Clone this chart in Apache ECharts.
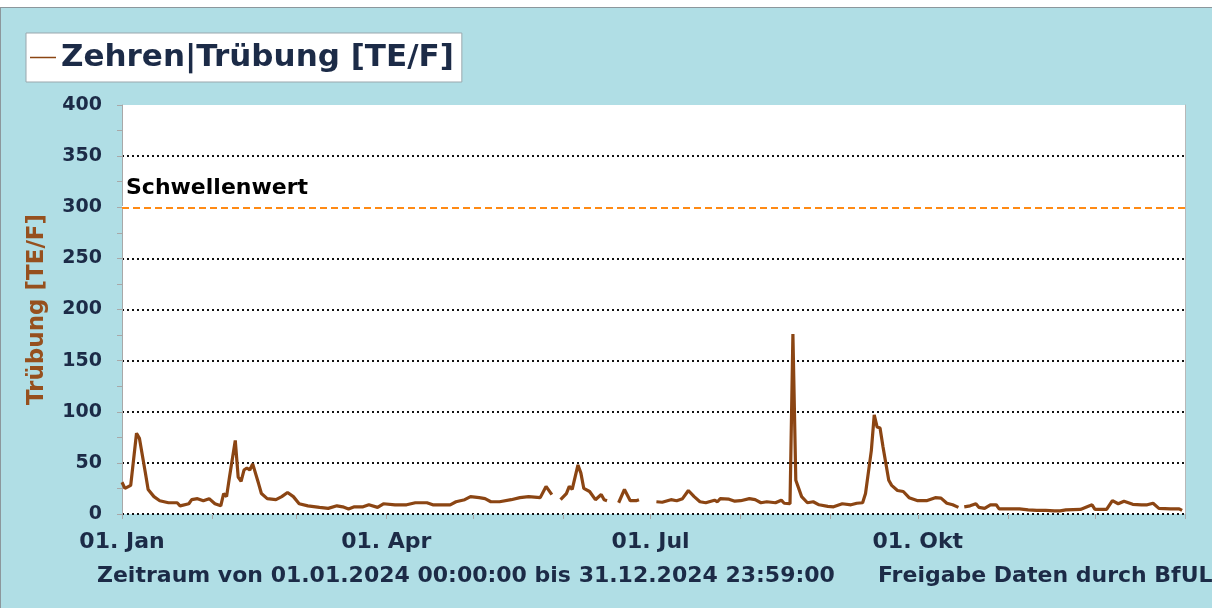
<!DOCTYPE html>
<html>
<head>
<meta charset="utf-8">
<script src="https://cdn.jsdelivr.net/npm/echarts@6/dist/echarts.min.js"></script>
<style>
  html, body { margin: 0; padding: 0; background: #ffffff; }
  #wrap { position: absolute; left: 0; top: 7px; width: 1211px; height: 600px;
          border-left: 1px solid #8c979c; border-top: 1px solid #8c979c; }
  #chart { width: 1211px; height: 600px; }
</style>
</head>
<body>
<div id="wrap"><div id="chart"></div></div>
<script>
// Tag im Jahr 2024 (0 = 01.01.) und Trübung [TE/F]; null = Messlücke
var days = [0, 1, 3, 5, 6, 8, 9, 11, 13, 16, 19, 20, 23, 24, 26, 28, 30, 32, 34, 35,
  36, 37, 39, 40, 41, 42, 43, 44, 45, 47, 48, 50, 53, 55, 57, 59, 61, 64, 68, 71,
  74, 76, 78, 80, 83, 85, 88, 90, 94, 98, 101, 105, 107, 113, 115, 118, 120, 123, 125, 127,
  130, 134, 137, 140, 144, 146, 148, 150, 151, 153, 154, 155, 157, 158, 159, 161, 163, 165, 166, 167,
  169, 171, 173, 175, 177, 178, 181, 184, 186, 189, 191, 193, 195, 197, 199, 201, 204, 205, 206, 209,
  211, 213, 216, 218, 220, 222, 225, 227, 228, 230, 231, 232, 234, 236, 238, 240, 243, 245, 248, 251,
  253, 255, 256, 258, 259, 260, 261, 262, 264, 265, 267, 269, 271, 274, 277, 280, 282, 284, 286, 288,
  289, 290, 292, 294, 295, 297, 299, 301, 302, 306, 309, 312, 315, 318, 321, 323, 325, 330, 334, 335,
  339, 341, 343, 345, 348, 351, 353, 355, 357, 361, 364, 365];
var truebung = [31, 25, 28, 79, 74, 41, 24, 17, 13, 11, 11, 8, 10, 14, 15, 13, 15, 10, 8, 20,
  17, 36, 72, 36, 32, 43, 45, 43, 49, 30, 20, 15, 14, 17, 21, 17, 10, 8, 6.5, 5.5,
  8, 7, 5, 7, 7, 9, 6.5, 10, 9, 9, 11, 11, 9, 9, 12, 14, 17, 16, 15, 12,
  12, 14, 16, 17, 16, 27, 19, null, 14, 20, 27, 24, 48, 40, 25, 22, 14, 19, 14, 13,
  null, 11, 24, 13, 13, 14, null, 12, 11.5, 14, 13, 15, 23, 17, 12, 11, 13.5, 12, 15, 14.5,
  12.5, 13, 15, 14, 11, 12, 11, 13.5, 10.5, 10, 176, 33, 17, 11, 12, 9, 7.5, 7, 10, 9,
  10.5, 11, 20, 62, 97, 85, 84, 66, 33, 28, 23, 22, 16, 13, 13, 16, 15.5, 10.5, 9, 6.5,
  null, 7, 8, 10, 6.5, 5.5, 9, 9, 5, 5, 5, 4, 3.5, 3.5, 3, 3, 4, 4.5, 9, 4.5,
  4.5, 13, 10, 12.5, 9.5, 9, 9, 10.5, 5.5, 5, 5, 3.5];

var monthStarts = [0, 31, 60, 91, 121, 152, 182, 213, 244, 274, 305, 335, 366];
var labelDays = [0, 91, 182, 274];
var labelNames = ['01. Jan', '01. Apr', '01. Jul', '01. Okt'];
var schwellenwert = 300;

var navy = '#1c2b47';
var brown = '#8b4513';
var font = 'DejaVu Sans';

var seriesData = days.map(function (d, i) {
  return [d, truebung[i] === null ? '-' : truebung[i]];
});

var chart = echarts.init(document.getElementById('chart'));

var option = {
  backgroundColor: '#b0dee5',
  animation: false,
  textStyle: { fontFamily: font },
  legend: {
    left: 25,
    top: 25,
    backgroundColor: '#ffffff',
    borderColor: '#9aa7ad',
    borderWidth: 1,
    padding: [7, 8, 7, 4],
    icon: 'rect',
    itemWidth: 26,
    itemHeight: 1.5,
    itemGap: 4,
    textStyle: { color: navy, fontSize: 31, fontWeight: 'bold', fontFamily: font, lineHeight: 35 },
    data: ['Zehren|Trübung [TE/F]']
  },
  grid: {
    left: 121,
    right: 27,
    top: 97,
    bottom: 94,
    show: true,
    backgroundColor: '#ffffff',
    borderWidth: 0
  },
  xAxis: {
    type: 'value',
    min: 0,
    max: 366,
    axisLine: { show: false },
    splitLine: { show: false },
    axisTick: {
      show: true,
      customValues: monthStarts,
      length: 5,
      lineStyle: { color: '#a8a8a8', width: 1 }
    },
    axisLabel: {
      customValues: labelDays,
      margin: 17,
      color: navy,
      fontSize: 22,
      fontWeight: 'bold',
      fontFamily: font,
      formatter: function (v) {
        return labelNames[labelDays.indexOf(v)];
      }
    }
  },
  yAxis: [{
    type: 'value',
    min: 0,
    max: 400,
    interval: 50,
    name: 'Trübung [TE/F]',
    nameLocation: 'middle',
    nameRotate: 90,
    nameGap: 73,
    nameTextStyle: { color: '#96501e', fontSize: 23, fontWeight: 'bold', fontFamily: font },
    axisLine: { show: true, lineStyle: { color: '#a8a8a8', width: 1 } },
    axisTick: { show: true, length: 5, lineStyle: { color: '#a8a8a8' } },
    minorTick: { show: true, splitNumber: 2, length: 5, lineStyle: { color: '#a8a8a8' } },
    axisLabel: { margin: 20, color: navy, fontSize: 19, fontWeight: 'bold', fontFamily: font },
    splitLine: { show: true, showMaxLine: false, lineStyle: { color: '#111111', width: 2, type: [2, 3] } }
  }, {
    type: 'value',
    min: 0,
    max: 400,
    position: 'right',
    axisLine: { show: true, lineStyle: { color: '#b8b8b8', width: 1 } },
    axisTick: { show: false },
    axisLabel: { show: false },
    splitLine: { show: false }
  }],
  series: [{
    name: 'Zehren|Trübung [TE/F]',
    type: 'line',
    data: seriesData,
    showSymbol: false,
    connectNulls: false,
    color: brown,
    lineStyle: { color: brown, width: 3.2 },
    markLine: {
      silent: true,
      symbol: 'none',
      data: [{
        yAxis: schwellenwert,
        lineStyle: { color: '#ffffff', width: 3, type: 'solid' },
        label: { show: false }
      }, {
        yAxis: schwellenwert,
        lineStyle: { color: '#ff8a14', width: 2, type: [7, 4] },
        label: {
          show: true,
          position: 'insideStartTop',
          formatter: 'Schwellenwert',
          color: '#000000',
          fontSize: 22,
          fontWeight: 'bold',
          fontFamily: font,
          distance: [4, 8]
        }
      }]
    }
  }],
  graphic: [{
    type: 'text',
    left: 96,
    top: 557,
    style: {
      text: 'Zeitraum von 01.01.2024 00:00:00 bis 31.12.2024 23:59:00',
      fill: navy, fontSize: 22, fontWeight: 'bold', fontFamily: font
    }
  }, {
    type: 'text',
    left: 877,
    top: 557,
    style: {
      text: 'Freigabe Daten durch BfUL',
      fill: navy, fontSize: 22, fontWeight: 'bold', fontFamily: font
    }
  }]
};

chart.setOption(option);
</script>
</body>
</html>
